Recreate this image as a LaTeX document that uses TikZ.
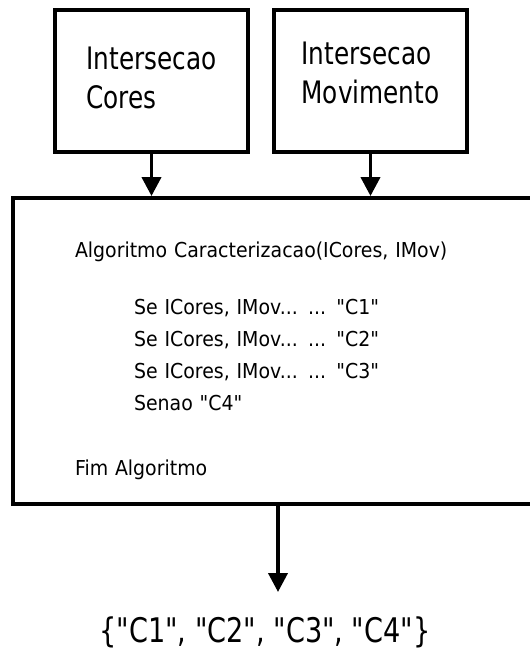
\documentclass[tikz,border=0pt]{standalone}
\usepackage{fontspec}
\newfontfamily\boxfont{DejaVu Sans}[FakeStretch=0.8]
\newfontfamily\algfont{DejaVu Sans}[FakeStretch=0.92]
\usetikzlibrary{arrows.meta, positioning, calc}

\begin{document}
\begin{tikzpicture}[
    inbox/.style={draw, line width=2.2pt, minimum width=3.86cm, minimum height=2.85cm, align=left, font=\boxfont\fontsize{17.6}{22.2}\selectfont},
    algbox/.style={draw, line width=2.2pt, minimum width=10.6cm, minimum height=6.12cm, text width=8.12cm, align=left, font=\algfont\fontsize{11.7}{18.2}\selectfont},
    arr/.style={line width=2.2pt, -{Triangle[length=0.38cm, width=0.38cm]}}
  ]
    \useasboundingbox (0,0) rectangle (10.6,12.96);

    \node[inbox] (cores) at (3.03,11.34) {Intersecao\\Cores\rule[-0.12cm]{0pt}{0pt}};
    \node[inbox] (mov) at (7.41,11.34) {Intersecao\\Movimento\rule[-0.32cm]{0pt}{0pt}};

    \node[algbox] (algo) at (5.56,5.94) {\rule{0pt}{0.7cm}Algoritmo Caracterizacao(ICores, IMov)\\[14.2pt]
      \hspace*{33.6pt}Se ICores, IMov... ... "C1"\\
      \hspace*{33.6pt}Se ICores, IMov... ... "C2"\\
      \hspace*{33.6pt}Se ICores, IMov... ... "C3"\\
      \hspace*{33.6pt}Senao "C4"\\[18.8pt]
      Fim Algoritmo};

    \node[font=\boxfont\fontsize{19.3}{22}\selectfont, anchor=base] (res) at (5.3,0.12) {\{"C1", "C2", "C3", "C4"\}};

    \draw[arr] (cores) -- (algo.north -| cores);
    \draw[arr] (mov) -- (algo.north -| mov);
    \draw[arr, shorten >=0.36cm] (algo) -- (algo.south |- res.north);
\end{tikzpicture}
\end{document}
